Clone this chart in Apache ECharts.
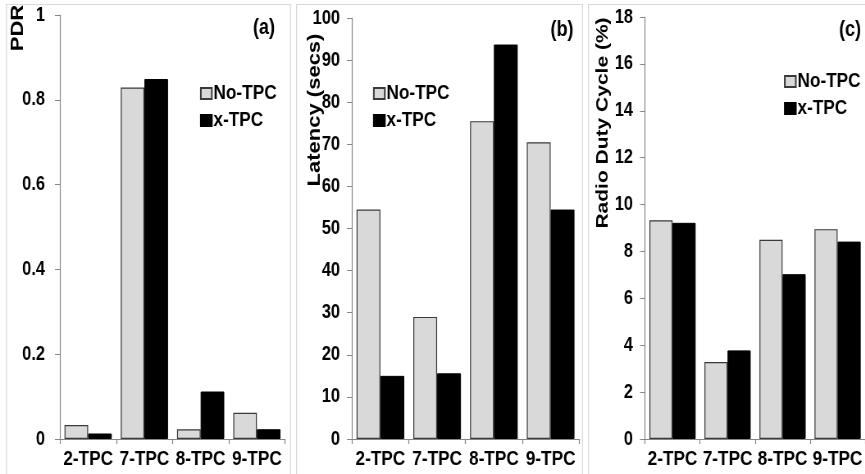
<!DOCTYPE html>
<html>
<head>
<meta charset="utf-8">
<script src="https://cdn.jsdelivr.net/npm/echarts@6/dist/echarts.min.js"></script>
<style>
html,body{margin:0;padding:0;background:#fff;overflow:hidden;width:865px;height:474px;}
#chart{width:1055px;height:474px;transform:scaleX(0.82);transform-origin:0 0;}
</style>
</head>
<body>
<div id="chart"></div>
<script>
// ---- data ----
var categories = ['2-TPC', '7-TPC', '8-TPC', '9-TPC'];
var seriesNames = ['No-TPC', 'x-TPC'];
var pdrNoTPC = [0.033, 0.829, 0.023, 0.062];
var pdrXTPC = [0.013, 0.849, 0.112, 0.023];
var latencyNoTPC = [54.5, 29, 75.5, 70.5];
var latencyXTPC = [15, 15.6, 93.7, 54.5];
var dutyNoTPC = [9.33, 3.28, 8.5, 8.95];
var dutyXTPC = [9.22, 3.78, 7.03, 8.42];
var panelLabels = ['(a)', '(b)', '(c)'];
var axisNames = ['PDR', 'Latency (secs)', 'Radio Duty Cycle (%)'];

// ---- layout (chart is drawn wide and squeezed horizontally, like the original figure) ----
var S = 0.82;
function X(px) { return px / S; }
var FONT = '"Liberation Sans", Arial, Helvetica, sans-serif';
var AXIS_COLOR = '#868686';
var NO_COLOR = '#d9d9d9';
var X_COLOR = '#000000';

var grids = [
  {left: X(60), top: 15, width: X(225), height: 424},
  {left: X(352), top: 18, width: X(227), height: 421},
  {left: X(645), top: 17, width: X(225), height: 422}
];
var yRanges = [
  {min: 0, max: 1, interval: 0.2, margin: X(15)},
  {min: 0, max: 100, interval: 10, margin: X(12)},
  {min: 0, max: 18, interval: 2, margin: X(12)}
];
var legendPos = [
  {left: X(200), top: 83},
  {left: X(373), top: 83},
  {left: X(784), top: 71}
];
var dataNo = [pdrNoTPC, latencyNoTPC, dutyNoTPC];
var dataX = [pdrXTPC, latencyXTPC, dutyXTPC];

var xAxes = [], yAxes = [], series = [], legends = [];
for (var i = 0; i < 3; i++) {
  xAxes.push({
    type: 'category', gridIndex: i, data: categories,
    axisLine: {show: true, lineStyle: {color: AXIS_COLOR, width: 1}},
    axisTick: {show: true, length: 5, lineStyle: {color: AXIS_COLOR, width: 1.2}},
    axisLabel: {color: '#000', fontFamily: FONT, fontWeight: 'bold', fontSize: 21, margin: 10, interval: 0}
  });
  yAxes.push({
    type: 'value', gridIndex: i, min: yRanges[i].min, max: yRanges[i].max, interval: yRanges[i].interval,
    splitLine: {show: false},
    axisLine: {show: true, lineStyle: {color: AXIS_COLOR, width: 1.2}},
    axisTick: {show: true, length: X(5), lineStyle: {color: AXIS_COLOR, width: 1}},
    axisLabel: {color: '#000', fontFamily: FONT, fontWeight: 'bold', fontSize: 20, margin: yRanges[i].margin}
  });
  series.push({
    name: seriesNames[0], type: 'bar', xAxisIndex: i, yAxisIndex: i, data: dataNo[i],
    barGap: '0%', barCategoryGap: '16%',
    itemStyle: {color: NO_COLOR, borderColor: '#3a3a3a', borderWidth: 1.2},
    animation: false
  });
  series.push({
    name: seriesNames[1], type: 'bar', xAxisIndex: i, yAxisIndex: i, data: dataX[i],
    barGap: '0%', barCategoryGap: '16%',
    itemStyle: {color: X_COLOR, borderColor: '#000', borderWidth: 1},
    animation: false
  });
  legends.push({
    left: legendPos[i].left, top: legendPos[i].top, orient: 'vertical',
    data: seriesNames, itemWidth: X(11), itemHeight: 11, itemGap: 6,
    icon: 'rect', padding: 0, selectedMode: false,
    textStyle: {color: '#000', fontFamily: FONT, fontWeight: 'bold', fontSize: 21, padding: [0, 0, 0, -3]}
  });
}

var borderStyle = {fill: 'none', stroke: '#d9d9d9', lineWidth: 1.2};
var nameFont = function (size) { return 'bold ' + size + 'px ' + FONT; };
var graphics = [
  {type: 'rect', shape: {x: X(6.5), y: 4.5, width: X(284), height: 480}, style: borderStyle, silent: true},
  {type: 'rect', shape: {x: X(296.5), y: 4.5, width: X(286), height: 480}, style: borderStyle, silent: true},
  {type: 'rect', shape: {x: X(588.5), y: 4.5, width: X(300), height: 480}, style: borderStyle, silent: true},
  {type: 'text', x: X(264), y: 28, style: {text: panelLabels[0], font: nameFont(22), fill: '#000', textAlign: 'center', textVerticalAlign: 'middle'}},
  {type: 'text', x: X(562), y: 30, style: {text: panelLabels[1], font: nameFont(22), fill: '#000', textAlign: 'center', textVerticalAlign: 'middle'}},
  {type: 'text', x: X(850), y: 30, style: {text: panelLabels[2], font: nameFont(22), fill: '#000', textAlign: 'center', textVerticalAlign: 'middle'}},
  {type: 'text', x: X(18), y: 28, rotation: Math.PI / 2, style: {text: axisNames[0], font: nameFont(22), fill: '#000', textAlign: 'center', textVerticalAlign: 'middle'}},
  {type: 'text', x: X(315), y: 110, rotation: Math.PI / 2, style: {text: axisNames[1], font: nameFont(22), fill: '#000', textAlign: 'center', textVerticalAlign: 'middle'}},
  {type: 'text', x: X(603), y: 123, rotation: Math.PI / 2, style: {text: axisNames[2], font: nameFont(21), fill: '#000', textAlign: 'center', textVerticalAlign: 'middle'}}
];

var chart = echarts.init(document.getElementById('chart'), null, {renderer: 'canvas', width: 1055, height: 474});
chart.setOption({
  animation: false,
  backgroundColor: '#fff',
  grid: grids,
  xAxis: xAxes,
  yAxis: yAxes,
  legend: legends,
  series: series,
  graphic: graphics
});
</script>
</body>
</html>
